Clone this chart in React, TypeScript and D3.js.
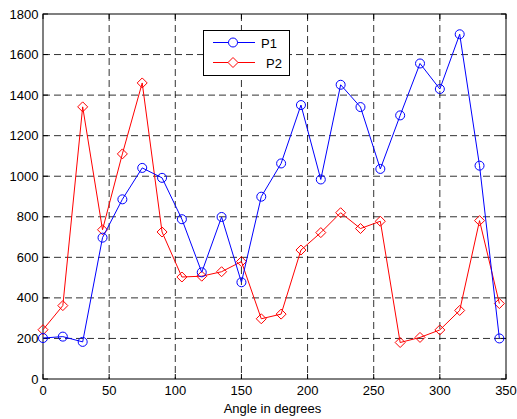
import React from "react";
import * as d3 from "d3";

const angles = [0, 15, 30, 45, 60, 75, 90, 105, 120, 135, 150, 165, 180, 195, 210, 225, 240, 255, 270, 285, 300, 315, 330, 345];
const p1 = [202, 209, 183, 697, 886, 1041, 992, 788, 526, 799, 477, 899, 1063, 1351, 984, 1451, 1341, 1036, 1300, 1556, 1430, 1700, 1052, 200];
const p2 = [243, 362, 1342, 736, 1110, 1460, 725, 503, 507, 529, 579, 297, 320, 636, 722, 820, 742, 778, 180, 205, 242, 338, 781, 372];
const xTicks = [0, 50, 100, 150, 200, 250, 300, 350];
const yTicks = [0, 200, 400, 600, 800, 1000, 1200, 1400, 1600, 1800];
const seriesNames = ["P1", "P2"];
const xLabel = "Angle in degrees";

const W = 517, H = 419;
const L = 43, R = 506, T = 14, B = 379;

export default function App() {
  const x = d3.scaleLinear().domain([0, 350]).range([L, R]);
  const y = d3.scaleLinear().domain([0, 1800]).range([B, T]);
  const line = d3.line<number>().x((_, i) => x(angles[i])).y((d) => y(d));
  const font = "'Liberation Sans', Arial, sans-serif";
  const diamond = (cx: number, cy: number, s = 5) =>
    `M${cx},${cy - s}L${cx + s},${cy}L${cx},${cy + s}L${cx - s},${cy}Z`;
  const tick = 5;
  const fs = 13;
  return (
    <svg width={W} height={H} style={{ position: "absolute", left: 0, top: 0, background: "#fff" }}>
      <rect x={0} y={0} width={W} height={H} fill="#fff" />
      {/* grid */}
      {xTicks.slice(1, -1).map((t) => (
        <line key={"gx" + t} x1={x(t)} x2={x(t)} y1={T} y2={B} stroke="#000" strokeWidth={1} strokeDasharray="7,4" opacity={0.8} />
      ))}
      {yTicks.slice(1, -1).map((t) => (
        <line key={"gy" + t} x1={L} x2={R} y1={y(t)} y2={y(t)} stroke="#000" strokeWidth={1} strokeDasharray="7,4" opacity={0.8} />
      ))}
      {/* ticks */}
      {xTicks.map((t) => (
        <g key={"tx" + t}>
          <line x1={x(t)} x2={x(t)} y1={B} y2={B - tick} stroke="#000" />
          <line x1={x(t)} x2={x(t)} y1={T} y2={T + tick} stroke="#000" />
          <text x={x(t)} y={395} textAnchor="middle" fontFamily={font} fontSize={fs} fill="#000">{t}</text>
        </g>
      ))}
      {yTicks.map((t) => (
        <g key={"ty" + t}>
          <line x1={L} x2={L + tick} y1={y(t)} y2={y(t)} stroke="#000" />
          <line x1={R} x2={R - tick} y1={y(t)} y2={y(t)} stroke="#000" />
          <text x={38.5} y={y(t) + 4.5} textAnchor="end" fontFamily={font} fontSize={fs} fill="#000">{t}</text>
        </g>
      ))}
      <rect x={L} y={T} width={R - L} height={B - T} fill="none" stroke="#000" strokeWidth={1} />
      <text x={(L + R) / 2 - 2} y={412.5} textAnchor="middle" fontFamily={font} fontSize={fs} fill="#000">{xLabel}</text>
      {/* series */}
      <path d={line(p2) || ""} fill="none" stroke="#ff0000" strokeWidth={1} />
      {p2.map((v, i) => (
        <path key={"d" + i} d={diamond(x(angles[i]), y(v))} fill="none" stroke="#ff0000" strokeWidth={1} />
      ))}
      <path d={line(p1) || ""} fill="none" stroke="#0000ff" strokeWidth={1} />
      {p1.map((v, i) => (
        <circle key={"c" + i} cx={x(angles[i])} cy={y(v)} r={4.5} fill="none" stroke="#0000ff" strokeWidth={1} />
      ))}
      {/* legend */}
      <rect x={203.5} y={30.5} width={86} height={45} fill="#fff" stroke="#000" strokeWidth={1} />
      <line x1={213} x2={255} y1={42.5} y2={42.5} stroke="#0000ff" />
      <circle cx={233} cy={42.5} r={4.5} fill="#fff" stroke="#0000ff" />
      <text x={277} y={47.5} textAnchor="end" fontFamily={font} fontSize={fs}>{seriesNames[0]}</text>
      <line x1={213} x2={255} y1={62.5} y2={62.5} stroke="#ff0000" />
      <path d={diamond(233, 62.5)} fill="#fff" stroke="#ff0000" />
      <text x={282} y={67.5} textAnchor="end" fontFamily={font} fontSize={fs}>{seriesNames[1]}</text>
    </svg>
  );
}
